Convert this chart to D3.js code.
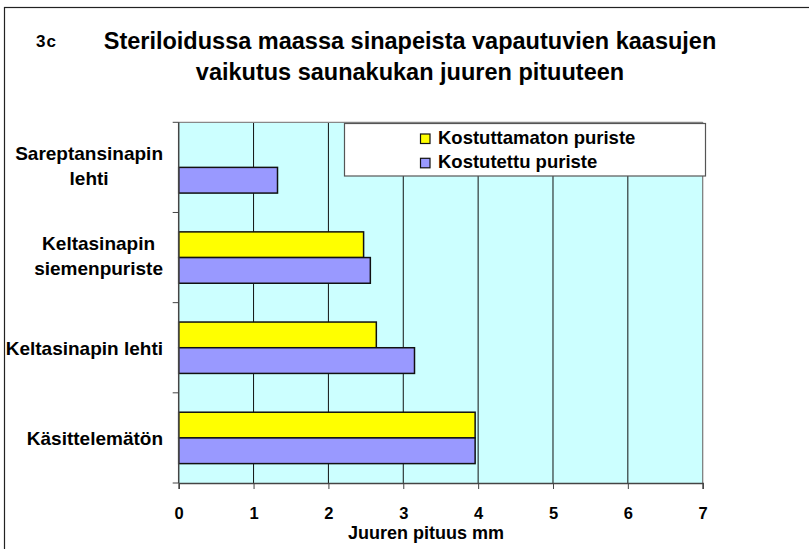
<!DOCTYPE html>
<html>
<head>
<meta charset="utf-8">
<script src="https://cdn.jsdelivr.net/npm/d3@7"></script>
<style>
  html, body { margin: 0; padding: 0; background: #fff; }
  svg { display: block; }
  text { font-family: "Liberation Sans", Arial, Helvetica, sans-serif; font-weight: bold; fill: #000; }
</style>
</head>
<body>
<svg id="chart" width="809" height="549"></svg>
<script>
// ---- data ----
const categories = ["Sareptansinapin lehti", "Keltasinapin siemenpuriste", "Keltasinapin lehti", "Käsittelemätön"];
const categoryLines = [["Sareptansinapin", "lehti"], ["Keltasinapin", "siemenpuriste"], ["Keltasinapin lehti"], ["Käsittelemätön"]];
const seriesNames = ["Kostuttamaton puriste", "Kostutettu puriste"];
const kostuttamaton = [null, 2.47, 2.64, 3.96];
const kostutettu = [1.32, 2.56, 3.15, 3.96];
const xTicks = [0, 1, 2, 3, 4, 5, 6, 7];
const chartLabel = "3c";
const titleLines = ["Steriloidussa maassa sinapeista vapautuvien kaasujen", "vaikutus saunakukan juuren pituuteen"];
const xTitle = "Juuren pituus mm";
const colors = ["#FFFF00", "#9999FF"];

// ---- layout ----
const svg = d3.select("#chart");
const plot = { left: 178.7, right: 702.7, top: 122.3, bottom: 483 };

// outer frame
svg.append("rect").attr("x", 4.5).attr("y", 7.5).attr("width", 820).attr("height", 560)
  .attr("fill", "none").attr("stroke", "#222").attr("stroke-width", 1.2);

const x = d3.scaleLinear().domain([0, 7]).range([plot.left, plot.right]);
const y = d3.scaleBand().domain(categories).range([plot.top, plot.bottom]).padding(0);
const ySub = d3.scaleBand().domain(seriesNames).range([0, y.bandwidth()]).paddingInner(0).paddingOuter(0.755);

// plot background
svg.append("rect").attr("x", plot.left).attr("y", plot.top)
  .attr("width", plot.right - plot.left).attr("height", plot.bottom - plot.top)
  .attr("fill", "#CCFFFF");

// gridlines
svg.append("g").selectAll("line").data(xTicks.filter(t => t > 0 && t < 7)).join("line")
  .attr("x1", d => x(d)).attr("x2", d => x(d))
  .attr("y1", plot.top).attr("y2", plot.bottom)
  .attr("stroke", "#111").attr("stroke-width", 1);

// plot border top/right
svg.append("line").attr("x1", plot.left).attr("x2", plot.right).attr("y1", plot.top).attr("y2", plot.top)
  .attr("stroke", "#888").attr("stroke-width", 1.2);
svg.append("line").attr("x1", plot.right).attr("x2", plot.right).attr("y1", plot.top).attr("y2", plot.bottom)
  .attr("stroke", "#777").attr("stroke-width", 1.2);

// bars
const seriesData = [kostuttamaton, kostutettu];
seriesData.forEach((vals, si) => {
  svg.append("g").selectAll("rect")
    .data(vals.map((v, i) => ({ v, c: categories[i] })).filter(d => d.v != null))
    .join("rect")
    .attr("x", x(0))
    .attr("y", d => y(d.c) + ySub(seriesNames[si]))
    .attr("width", d => x(d.v) - x(0))
    .attr("height", ySub.bandwidth())
    .attr("fill", colors[si])
    .attr("stroke", "#111").attr("stroke-width", 1.5);
});

// x axis
const xAxis = d3.axisBottom(x).tickValues(xTicks).tickSize(6).tickPadding(0).tickFormat(d3.format("d"));
const gx = svg.append("g").attr("transform", `translate(0,${plot.bottom})`).call(xAxis);
gx.select(".domain").attr("stroke", "#444").attr("stroke-width", 1.5);
gx.selectAll(".tick line").attr("stroke", "#444");
gx.selectAll(".tick text").attr("font-size", 16.5).attr("font-family", "Liberation Sans, Arial, sans-serif")
  .attr("font-weight", "bold").attr("fill", "#000").attr("dy", null).attr("y", 35.5);

// y axis (ticks at band boundaries)
const yEdges = categories.map(c => y(c)).concat([plot.bottom]);
svg.append("line").attr("x1", plot.left).attr("x2", plot.left).attr("y1", plot.top).attr("y2", plot.bottom)
  .attr("stroke", "#444").attr("stroke-width", 1.5);
svg.append("g").selectAll("line").data(yEdges).join("line")
  .attr("x1", plot.left - 6).attr("x2", plot.left)
  .attr("y1", d => d).attr("y2", d => d)
  .attr("stroke", "#444").attr("stroke-width", 1);

// category labels (block right-aligned at 163, lines centered)
const labelRight = 163, lineGap = 25.5;
categories.forEach((c, i) => {
  const lines = categoryLines[i];
  const cy = y(c) + y.bandwidth() / 2;
  const g = svg.append("g");
  const texts = lines.map((ln, j) => g.append("text")
    .attr("font-size", 19)
    .attr("text-anchor", "middle")
    .attr("y", cy + 7 + (j - (lines.length - 1) / 2) * lineGap - (lines.length > 1 ? 2 : 0))
    .text(ln));
  const maxW = d3.max(texts, t => t.node().getComputedTextLength());
  texts.forEach(t => t.attr("x", labelRight - maxW / 2));
});

// x title
svg.append("text").attr("x", 426).attr("y", 539).attr("text-anchor", "middle")
  .attr("font-size", 18).text(xTitle);

// titles
svg.append("text").attr("x", 46.5).attr("y", 47).attr("text-anchor", "middle")
  .attr("font-size", 17).attr("letter-spacing", 1).text(chartLabel);
titleLines.forEach((t, i) => {
  svg.append("text").attr("x", 410).attr("y", 49 + i * 31).attr("text-anchor", "middle")
    .attr("font-size", 23.5).text(t);
});

// legend
const lg = svg.append("g");
lg.append("rect").attr("x", 344.5).attr("y", 123.5).attr("width", 361).attr("height", 52.5)
  .attr("fill", "#fff").attr("stroke", "#555").attr("stroke-width", 1.2);
seriesNames.forEach((s, i) => {
  const base = 143.5 + i * 24.3;
  lg.append("rect").attr("x", 420.5).attr("y", base - 9.5).attr("width", 9.5).attr("height", 9.5)
    .attr("fill", colors[i]).attr("stroke", "#111").attr("stroke-width", 1.2);
  lg.append("text").attr("x", 438).attr("y", base)
    .attr("font-size", 18.5).text(s);
});
</script>
</body>
</html>
